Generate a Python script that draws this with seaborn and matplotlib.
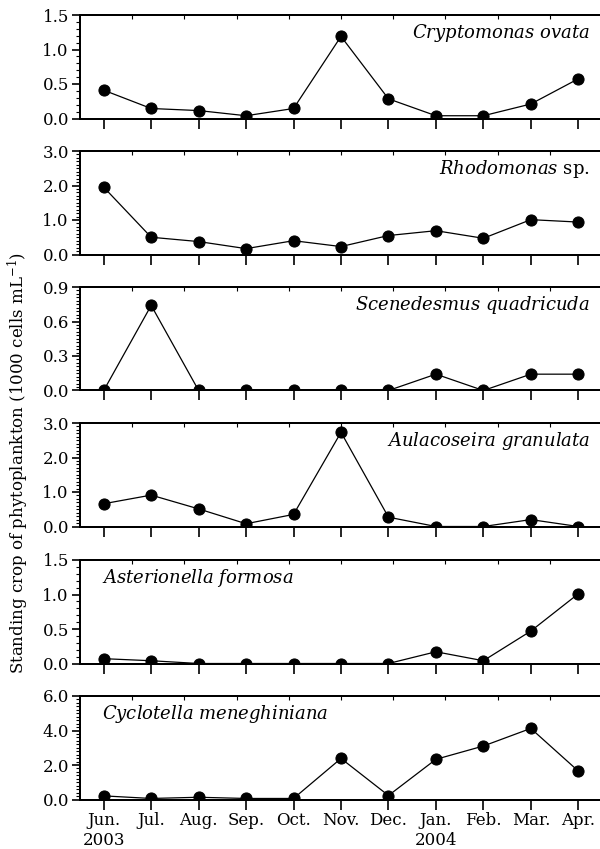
import matplotlib
matplotlib.use("Agg")
import matplotlib.pyplot as plt
from matplotlib.ticker import MultipleLocator, FormatStrFormatter
import numpy as np
import seaborn as sns

months = ["Jun.\n2003", "Jul.", "Aug.", "Sep.", "Oct.", "Nov.", "Dec.",
          "Jan.\n2004", "Feb.", "Mar.", "Apr."]

cryptomonas = [0.41, 0.145, 0.115, 0.04, 0.145, 1.19, 0.285, 0.04, 0.04, 0.21, 0.575]
rhodomonas = [1.95, 0.50, 0.375, 0.17, 0.40, 0.23, 0.55, 0.69, 0.47, 1.01, 0.94]
scenedesmus = [0.0, 0.74, 0.0, 0.0, 0.0, 0.0, 0.0, 0.142, 0.0, 0.142, 0.142]
aulacoseira = [0.66, 0.91, 0.51, 0.08, 0.35, 2.73, 0.27, 0.0, 0.0, 0.20, 0.0]
asterionella = [0.07, 0.04, 0.0, 0.0, 0.0, 0.0, 0.0, 0.17, 0.04, 0.47, 1.01]
cyclotella = [0.21, 0.06, 0.13, 0.06, 0.06, 2.38, 0.23, 2.33, 3.10, 4.12, 1.65]

series = [cryptomonas, rhodomonas, scenedesmus, aulacoseira, asterionella, cyclotella]
names = [r"$\it{Cryptomonas\ ovata}$", r"$\it{Rhodomonas}$ sp.",
         r"$\it{Scenedesmus\ quadricuda}$", r"$\it{Aulacoseira\ granulata}$",
         r"$\it{Asterionella\ formosa}$", r"$\it{Cyclotella\ meneghiniana}$"]
ymax = [1.5, 3.0, 0.9, 3.0, 1.5, 6.0]
ystep = [0.5, 1.0, 0.3, 1.0, 0.5, 2.0]
yminor = [0.1, 0.1, 0.03, 0.1, 0.1, 0.2]
label_right = [True, True, True, True, False, False]

sns.set_theme(style="ticks")
plt.rcParams["font.family"] = ["DejaVu Serif"]
plt.rcParams["mathtext.fontset"] = "dejavuserif"
for key in ["text.color", "axes.labelcolor", "xtick.color", "ytick.color", "axes.edgecolor"]:
    plt.rcParams[key] = "black"

fig = plt.figure(figsize=(6.0, 8.49), dpi=100)

# panel frames in pixels (top edge of each panel, common height)
tops_px = [15, 151, 287, 423, 560, 696]
h_px = 103.5
left, width = 80 / 600, 522 / 600
x = np.arange(len(months))

for i, vals in enumerate(series):
    bottom = 1 - (tops_px[i] + h_px) / 849
    ax = fig.add_axes([left, bottom, width, h_px / 849])
    sns.lineplot(x=x, y=vals, ax=ax, color="black", linewidth=0.9,
                 marker="o", markersize=8, markeredgecolor="black")
    ax.set_xlim(-0.5, 10.5)
    ax.set_ylim(0, ymax[i])
    ax.yaxis.set_major_locator(MultipleLocator(ystep[i]))
    ax.yaxis.set_minor_locator(MultipleLocator(yminor[i]))
    ax.yaxis.set_major_formatter(FormatStrFormatter("%.1f"))
    ax.set_xticks(x)
    if i == len(series) - 1:
        ax.set_xticklabels(months)
    else:
        ax.set_xticklabels([])
    ax.tick_params(axis="x", direction="out", length=7, width=1.2, pad=2, labelsize=12)
    ax.tick_params(axis="y", which="major", direction="out", length=6, width=1.2,
                   labelsize=12, pad=2)
    ax.tick_params(axis="y", which="minor", direction="out", length=3, width=0.8)
    for side in ["left", "bottom", "top"]:
        ax.spines[side].set_linewidth(1.4)
    ax.spines["right"].set_visible(False)

    # small inward ticks along the top frame
    top = ax.twiny()
    top.set_xlim(0, 10)
    top.set_xticks(range(1, 10))
    top.set_xticklabels([])
    top.tick_params(axis="x", direction="in", length=3, width=0.8)
    top.spines["right"].set_visible(False)

    if label_right[i]:
        ax.text(0.977, 0.825, names[i], transform=ax.transAxes, ha="right",
                va="center", fontsize=13)
    else:
        ax.text(0.042, 0.825, names[i], transform=ax.transAxes, ha="left",
                va="center", fontsize=13)

fig.text(0.03, 0.455, r"Standing crop of phytoplankton (1000 cells mL$^{-1}$)",
         rotation=90, ha="center", va="center", fontsize=12)

fig.savefig("out.png", dpi=100)
